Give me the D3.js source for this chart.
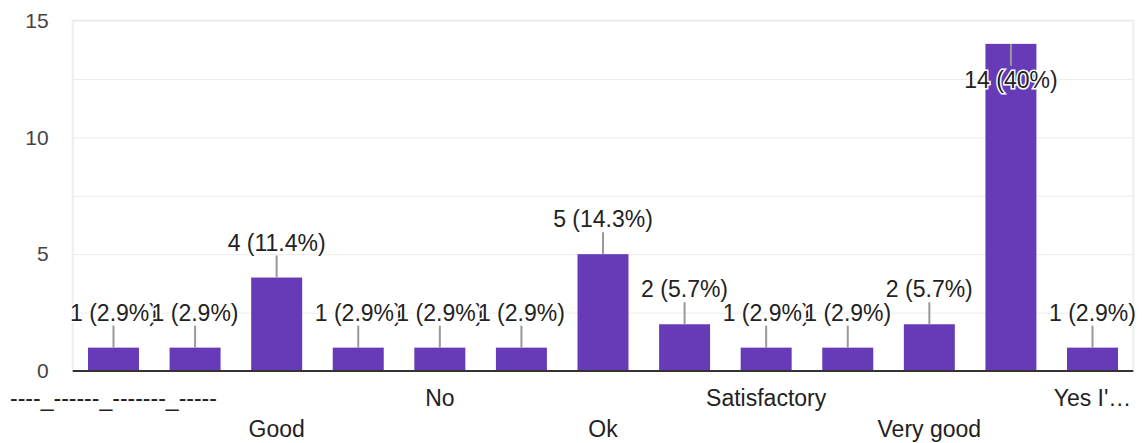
<!DOCTYPE html>
<html>
<head>
<meta charset="utf-8">
<script src="https://cdn.jsdelivr.net/npm/d3@7"></script>
<style>
  body { margin: 0; background: #fff; }
  svg { font-family: "Liberation Sans", Arial, sans-serif; }
  .grid line { stroke: #ebebeb; stroke-width: 1; }
  .grid path { stroke: none; }
</style>
</head>
<body>
<div id="chart"></div>
<script>
// answers (sorted alphabetically like the form summary), only every other one is labelled
var categories = ['----_------_-------_-----', 'Fine', 'Good', 'Nice', 'No', 'Not bad', 'Ok', 'Okay',
                  'Satisfactory', 'Satisfied', 'Very good', 'Yes', "Yes I'\u2026"];
var counts = [1, 1, 4, 1, 1, 1, 5, 2, 1, 1, 2, 14, 1];
var percents = ['2.9%', '2.9%', '11.4%', '2.9%', '2.9%', '2.9%', '14.3%', '5.7%', '2.9%', '2.9%', '5.7%', '40%', '2.9%'];
var yTicks = [0, 5, 10, 15];
var gridTicks = [0, 2.5, 5, 7.5, 10, 12.5, 15];

var W = 1146, H = 443;
var plotLeft = 72.7, plotRight = 1133.3, plotTop = 20.5, plotBottom = 371;

var svg = d3.select('#chart').append('svg').attr('width', W).attr('height', H);

var x = d3.scaleBand()
    .domain(categories)
    .range([plotLeft, plotRight])
    .paddingInner(0.375)
    .paddingOuter(0.1875);

var y = d3.scaleLinear()
    .domain([0, 15])
    .range([plotBottom, plotTop]);

// grid
svg.append('g')
    .attr('class', 'grid')
    .attr('transform', `translate(${plotLeft},0)`)
    .call(d3.axisLeft(y).tickValues(gridTicks).tickSize(-(plotRight - plotLeft)).tickFormat(''));

// frame
svg.append('path')
    .attr('d', `M${plotLeft},${plotBottom}V${plotTop}H${plotRight}V${plotBottom}`)
    .attr('fill', 'none')
    .attr('stroke', '#eeeeee')
    .attr('stroke-width', 2);

// y tick labels
var yAxis = svg.append('g')
    .attr('transform', `translate(${plotLeft},0)`)
    .call(d3.axisLeft(y).tickValues(yTicks).tickSize(0).tickPadding(24));
yAxis.select('.domain').remove();
yAxis.selectAll('text')
    .attr('font-size', 21)
    .attr('font-family', '"Liberation Sans", Arial, sans-serif')
    .attr('fill', '#444');

// bars
var rows = counts.map((c, i) => ({ cat: categories[i], count: c, pct: percents[i] }));

svg.selectAll('.bar')
    .data(rows)
    .enter()
    .append('rect')
    .attr('class', 'bar')
    .attr('x', d => x(d.cat))
    .attr('y', d => y(d.count))
    .attr('width', x.bandwidth())
    .attr('height', d => plotBottom - y(d.count))
    .attr('fill', '#673ab7');

// baseline
svg.append('line')
    .attr('x1', plotLeft).attr('x2', plotRight)
    .attr('y1', plotBottom).attr('y2', plotBottom)
    .attr('stroke', '#333').attr('stroke-width', 2);

// x labels, every other one, staggered on two rows
var xAxis = svg.append('g')
    .attr('transform', `translate(0,${plotBottom})`)
    .call(d3.axisBottom(x).tickSize(0).tickFormat((d, i) => i % 2 === 0 ? d : ''));
xAxis.select('.domain').remove();
xAxis.selectAll('text')
    .attr('font-size', 23)
    .attr('font-family', '"Liberation Sans", Arial, sans-serif')
    .attr('fill', '#222')
    .attr('dy', null)
    .attr('y', (d, i) => (i / 2) % 2 === 0 ? 35 : 66);

// annotations
var ann = svg.selectAll('.ann')
    .data(rows)
    .enter()
    .append('g')
    .attr('class', 'ann');

ann.each(function (d) {
    var g = d3.select(this);
    var cx = x(d.cat) + x.bandwidth() / 2;
    var t = y(d.count);
    var inside = t - 50 < plotTop;
    g.append('line')
        .attr('x1', cx).attr('x2', cx)
        .attr('y1', t).attr('y2', inside ? t + 22 : t - 22)
        .attr('stroke', '#999').attr('stroke-width', 2);
    g.append('text')
        .attr('x', cx)
        .attr('y', inside ? t + 44 : t - 27)
        .attr('text-anchor', 'middle')
        .attr('font-size', 23)
        .attr('fill', '#222')
        .attr('stroke', '#fff')
        .attr('stroke-width', 3)
        .attr('paint-order', 'stroke')
        .text(`${d.count} (${d.pct})`);
});
</script>
</body>
</html>
